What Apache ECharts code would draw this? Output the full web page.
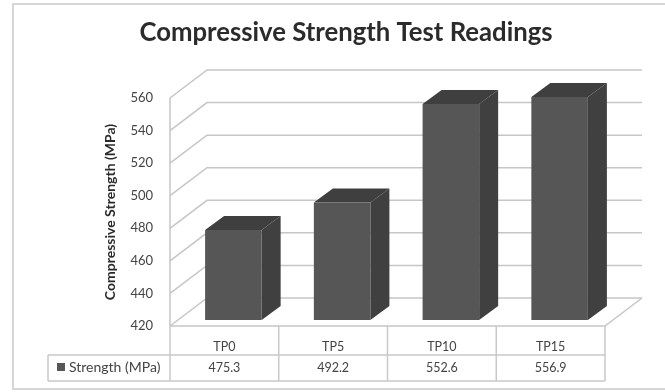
<!DOCTYPE html>
<html><head><meta charset="utf-8">
<style>html,body{margin:0;padding:0;background:#fff;overflow:hidden}#c{width:665px;height:392px;filter:blur(0.5px)}</style>
<script src="https://cdn.jsdelivr.net/npm/echarts@6/dist/echarts.min.js"></script>
</head><body><div id="c"></div>
<script>
const categories = ['TP0','TP5','TP10','TP15'];
const strength = [475.3,492.2,552.6,556.9];
const ticks = [420,440,460,480,500,520,540,560];
const seriesName = 'Strength (MPa)';
const titleText = 'Compressive Strength Test Readings';
const yTitle = 'Compressive Strength (MPa)';

const FONT = 'Lato, "Open Sans", sans-serif';
const GRID = '#c6c6c6', TABLE = '#c9c9c9';
const DX = 37, DY = 28;            // wall depth
const BX = 19, BY = 14;            // bar depth
const INX = 9, INY = 6;            // bar inset from front plane

const chart = echarts.init(document.getElementById('c'));
const line = (pts, color, w) => ({type:'polyline', shape:{points:pts}, style:{stroke:color, lineWidth:w||1.5, fill:null}, silent:true});

chart.setOption({
  animation:false,
  backgroundColor:'#fff',
  title:{text:titleText,left:341,top:15,textAlign:'center',textStyle:{fontFamily:FONT,fontWeight:'bold',fontSize:25.7,color:'#2b2b2b'}},
  legend:{left:52,top:355,itemWidth:8,itemHeight:8,icon:'rect',itemGap:4,data:[seriesName],selectedMode:false,
    textStyle:{fontFamily:FONT,fontSize:14,color:'#444',padding:[0,0,0,-1]}},
  grid:{left:170,right:60,top:98,bottom:66},
  xAxis:{type:'category',data:categories,axisLine:{show:false},axisTick:{show:false},splitLine:{show:false},
    axisLabel:{margin:10,fontFamily:FONT,fontSize:12.5,color:'#444',lineHeight:21,
      formatter:(v,i)=>v+'\n'+strength[i].toFixed(1)}},
  yAxis:{type:'value',min:420,max:560,interval:20,axisLine:{show:false},axisTick:{show:false},splitLine:{show:false},
    axisLabel:{margin:17,fontFamily:FONT,fontSize:13,color:'#444',padding:[4,0,0,0]},
    name:yTitle,nameLocation:'middle',nameRotate:90,nameGap:53,
    nameTextStyle:{fontFamily:FONT,fontWeight:'bold',fontSize:14,color:'#2b2b2b'}},
  series:[
    {type:'custom',name:'walls',coordinateSystem:'cartesian2d',silent:true,z:1,data:ticks.map(t=>[0,t]),
      renderItem(p,api){
        const g=p.coordSys, y=api.coord([0,api.value(1)])[1];
        return line([[g.x,y],[g.x+DX,y-DY],[g.x+g.width+DX,y-DY]],GRID);
      }},
    {type:'custom',name:'frame',coordinateSystem:'cartesian2d',silent:true,z:1,data:[[0,420]],
      renderItem(p,api){
        const g=p.coordSys, b=g.y+g.height, r=g.x+g.width, n=categories.length, left=48, y1=b+29, y2=b+55;
        const kids=[
          line([[g.x,g.y],[g.x,b]],GRID),
          line([[g.x,b],[r,b],[r+DX,b-DY]],GRID),
          line([[g.x,y1],[r,y1]],TABLE), line([[left,y1],[g.x,y1]],TABLE),
          line([[left,y2],[r,y2]],TABLE), line([[left,y1],[left,y2]],TABLE)];
        for(let i=0;i<=n;i++){const x=g.x+g.width*i/n; kids.push(line([[x,b],[x,y2]],TABLE));}
        return {type:'group',children:kids};
      }},
    {type:'custom',name:seriesName,coordinateSystem:'cartesian2d',z:3,itemStyle:{color:'#565656'},
      data:strength.map((v,i)=>[i,v]),
      renderItem(p,api){
        const c=api.coord([api.value(0),api.value(1)]), base=api.coord([api.value(0),420]);
        const band=api.size([1,0])[0], w=band*0.52;
        const x0=c[0]-w/2+INX, x1=x0+w, t=c[1]-INY, b=base[1]-INY;
        return {type:'group',children:[
          {type:'polygon',shape:{points:[[x1,t],[x1+BX,t-BY],[x1+BX,b-BY],[x1,b]]},style:{fill:'#404040'}},
          {type:'polygon',shape:{points:[[x0,t],[x0+BX,t-BY],[x1+BX,t-BY],[x1,t]]},style:{fill:'#3f3f3f'}},
          {type:'rect',shape:{x:x0,y:t,width:w,height:b-t},style:{fill:'#565656'}}
        ]};
      }}
  ],
  graphic:[{type:'rect',left:12,top:3,silent:true,z:-1,shape:{width:680,height:385},style:{fill:'#fff',stroke:'#d6d6d6',lineWidth:2}}]
});
</script></body></html>
